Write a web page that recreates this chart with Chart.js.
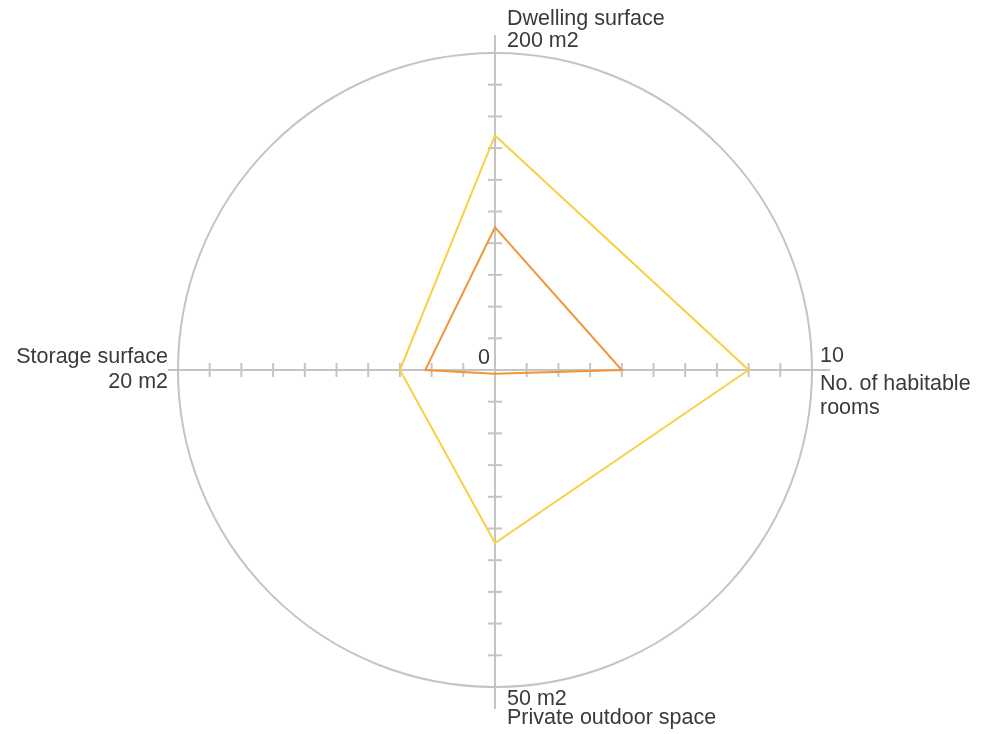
<!DOCTYPE html>
<html>
<head>
<meta charset="utf-8">
<script src="https://cdn.jsdelivr.net/npm/chart.js@4/dist/chart.umd.min.js"></script>
<style>
  html, body { margin: 0; padding: 0; background: #ffffff; }
  #wrap { width: 999px; height: 734px; }
</style>
</head>
<body>
<div id="wrap"><canvas id="c" width="999" height="734"></canvas></div>
<script>
// ---- data ----
const categories = ["Dwelling surface", "No. of habitable rooms", "Private outdoor space", "Storage surface"];
const axisMax = [200, 10, 50, 20];
const axisMaxLabels = ["200 m2", "10", "50 m2", "20 m2"];
const centerLabel = "0";
const seriesLarge = [148, 8, 27.3, 6];   // yellow
const seriesSmall = [90, 4, 0.6, 4.4];   // orange
const tickSteps = [1, 2, 3, 4, 5, 6, 7, 8, 9, 10];

const norm = arr => arr.map((v, i) => v / axisMax[i] * 10);

const GREY = '#c4c4c4';
const TEXT = '#3a3a3a';
const FONT = '21.5px "Liberation Sans", Arial, sans-serif';

const axesPlugin = {
  id: 'axesPlugin',
  beforeDatasetsDraw(chart) {
    const s = chart.scales.r;
    const ctx = chart.ctx;
    const ext = [18, 18, 22, 10];
    ctx.save();
    ctx.strokeStyle = GREY;
    ctx.lineWidth = 2;
    for (let i = 0; i < categories.length; i++) {
      const end = s.getPointPosition(i, s.drawingArea + ext[i]);
      ctx.beginPath();
      ctx.moveTo(s.xCenter, s.yCenter);
      ctx.lineTo(end.x, end.y);
      ctx.stroke();
      const ang = end.angle;
      const px = -Math.sin(ang), py = Math.cos(ang);
      tickSteps.forEach(t => {
        const p = s.getPointPositionForValue(i, t);
        ctx.beginPath();
        ctx.moveTo(p.x - px * 7, p.y - py * 7);
        ctx.lineTo(p.x + px * 7, p.y + py * 7);
        ctx.stroke();
      });
    }
    ctx.restore();
  },
  afterDraw(chart) {
    const s = chart.scales.r;
    const ctx = chart.ctx;
    ctx.save();
    ctx.fillStyle = TEXT;
    ctx.font = FONT;
    ctx.textBaseline = 'alphabetic';
    const top = s.getPointPosition(0, s.drawingArea);
    const right = s.getPointPosition(1, s.drawingArea);
    const bottom = s.getPointPosition(2, s.drawingArea);
    const left = s.getPointPosition(3, s.drawingArea);
    // top
    ctx.textAlign = 'left';
    ctx.fillText(categories[0], top.x + 12, top.y - 28);
    ctx.fillText(axisMaxLabels[0], top.x + 12, top.y - 6);
    // right
    ctx.fillText(axisMaxLabels[1], right.x + 8, right.y - 8);
    ctx.fillText("No. of habitable", right.x + 8, right.y + 20);
    ctx.fillText("rooms", right.x + 8, right.y + 44);
    // bottom
    ctx.fillText(axisMaxLabels[2], bottom.x + 12, bottom.y + 18);
    ctx.fillText(categories[2], bottom.x + 12, bottom.y + 37);
    // left
    ctx.textAlign = 'right';
    ctx.fillText(categories[3], left.x - 10, left.y - 7);
    ctx.fillText(axisMaxLabels[3], left.x - 10, left.y + 18);
    // center
    ctx.fillText(centerLabel, s.xCenter - 5, s.yCenter - 6);
    ctx.restore();
  }
};

new Chart(document.getElementById('c'), {
  type: 'radar',
  data: {
    labels: categories,
    datasets: [
      {
        label: 'large',
        data: norm(seriesLarge),
        borderColor: '#f8d044',
        backgroundColor: 'rgba(0,0,0,0)',
        borderWidth: 2,
        pointRadius: 0,
        fill: false,
        tension: 0
      },
      {
        label: 'small',
        data: norm(seriesSmall),
        borderColor: '#f0953a',
        backgroundColor: 'rgba(0,0,0,0)',
        borderWidth: 2,
        pointRadius: 0,
        fill: false,
        tension: 0
      }
    ]
  },
  options: {
    responsive: false,
    devicePixelRatio: 1,
    animation: false,
    layout: { padding: { top: 53, bottom: 47, left: 0, right: 9 } },
    plugins: { legend: { display: false }, tooltip: { enabled: false } },
    scales: {
      r: {
        min: 0,
        max: 10,
        startAngle: 0,
        ticks: { display: false, stepSize: 1 },
        pointLabels: { display: false },
        angleLines: { display: false },
        grid: {
          circular: true,
          lineWidth: 2,
          color: c => (c.tick && c.tick.value === 10) ? GREY : 'rgba(0,0,0,0)'
        }
      }
    }
  },
  plugins: [axesPlugin]
});
</script>
</body>
</html>
